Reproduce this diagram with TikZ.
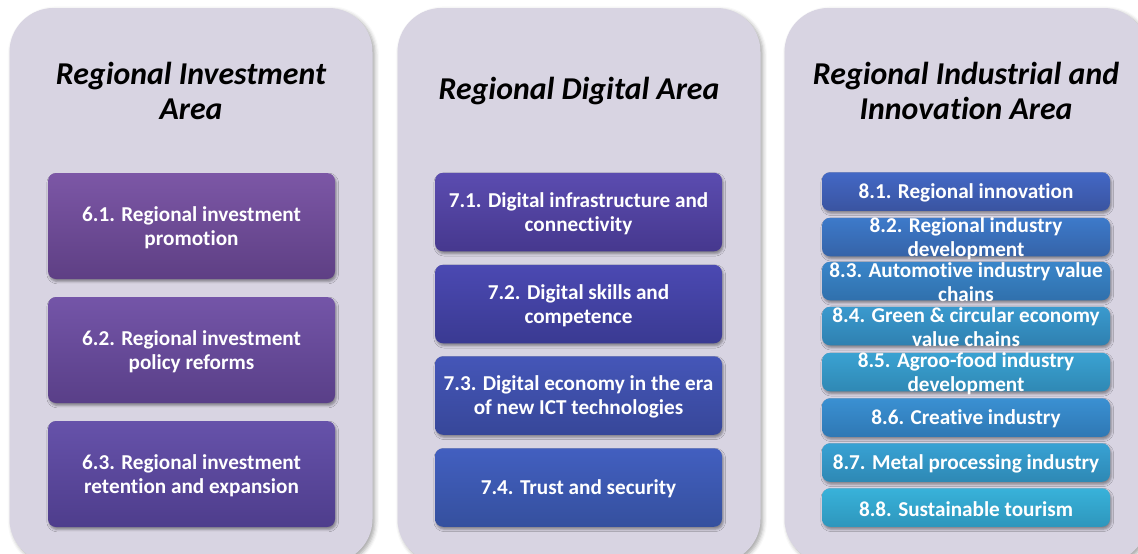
\documentclass[tikz,border=0pt]{standalone}
\usepackage{fontspec}
\setmainfont{Carlito}[Ligatures=NoCommon]
\usepackage{xcolor}
\usetikzlibrary{shadows.blur}

\definecolor{panel-grey}{HTML}{D8D4E2}
\definecolor{p61-top}{HTML}{7C57A6}\definecolor{p61-bot}{HTML}{5E3F84}
\definecolor{p62-top}{HTML}{7455A8}\definecolor{p62-bot}{HTML}{593F88}
\definecolor{p63-top}{HTML}{6652AA}\definecolor{p63-bot}{HTML}{4E3D8C}
\definecolor{p71-top}{HTML}{5B4CB0}\definecolor{p71-bot}{HTML}{46388E}
\definecolor{p72-top}{HTML}{4B49B2}\definecolor{p72-bot}{HTML}{3A3A92}
\definecolor{p73-top}{HTML}{4556B8}\definecolor{p73-bot}{HTML}{374799}
\definecolor{p74-top}{HTML}{425FC0}\definecolor{p74-bot}{HTML}{35509E}
\definecolor{p81-top}{HTML}{4368C6}\definecolor{p81-bot}{HTML}{3A54A0}
\definecolor{p82-top}{HTML}{3D7ACA}\definecolor{p82-bot}{HTML}{3563A8}
\definecolor{p83-top}{HTML}{3A86CA}\definecolor{p83-bot}{HTML}{3070AC}
\definecolor{p84-top}{HTML}{3A9ACE}\definecolor{p84-bot}{HTML}{2F80B0}
\definecolor{p85-top}{HTML}{3AA2D2}\definecolor{p85-bot}{HTML}{2F88B4}
\definecolor{p86-top}{HTML}{3A90D2}\definecolor{p86-bot}{HTML}{2F78B4}
\definecolor{p87-top}{HTML}{38A2D4}\definecolor{p87-bot}{HTML}{2E88B4}
\definecolor{p88-top}{HTML}{38B2DA}\definecolor{p88-bot}{HTML}{2E96BC}

\tikzset{
    area-panel/.style = {fill=panel-grey, rectangle, rounded corners=22pt, minimum width=181.5pt, minimum height=277.5pt,
        blur shadow={shadow xshift=1.2pt, shadow yshift=-1.2pt, shadow blur radius=2pt, shadow opacity=35}},
    area-title/.style = {font=\fontsize{15.9}{17.5}\selectfont\bfseries\itshape, align=center},
    item-box/.style = {rectangle, rounded corners=4pt, minimum width=143.5pt, inner sep=0pt,
        top color=#1-top, bottom color=#1-bot,
        blur shadow={shadow xshift=0.6pt, shadow yshift=-1.2pt, shadow blur radius=1.2pt, shadow opacity=40}},
    item-text/.style = {text=white, font=\fontsize{10.6}{12}\selectfont\bfseries, align=center, inner sep=0pt, yshift=-0.8pt},
}

\begin{document}
\begin{tikzpicture}[x=0.5pt, y=-0.5pt]
\clip (0,0) rectangle (1138,553);

% the three areas
\node [area-panel] (invest-area) at (191,285.5) {};
\node [area-panel] (digital-area) at (579,285.5) {};
\node [area-panel] (industry-area) at (966,285.5) {};

\node [area-title] (invest-title) at (191,91) {Regional Investment\\Area};
\node [area-title] (digital-title) at (579,91.5) {Regional Digital Area};
\node [area-title] (industry-title) at (966,91) {Regional Industrial and\\Innovation Area};

% investment
\node [item-box=p61, minimum height=53pt] (b61) at (191.5,226) {};
\node [item-box=p62, minimum height=53pt] (b62) at (191.5,350) {};
\node [item-box=p63, minimum height=53pt] (b63) at (191.5,474) {};
\node [item-text] (t61) at (b61) {6.1. Regional investment\\promotion};
\node [item-text] (t62) at (b62) {6.2. Regional investment\\policy reforms};
\node [item-text] (t63) at (b63) {6.3. Regional investment\\retention and expansion};

% digital
\node [item-box=p71, minimum height=39.25pt] (b71) at (578.5,212) {};
\node [item-box=p72, minimum height=39.25pt] (b72) at (578.5,304) {};
\node [item-box=p73, minimum height=39.25pt] (b73) at (578.5,395.5) {};
\node [item-box=p74, minimum height=39.25pt] (b74) at (578.5,487.5) {};
\node [item-text] (t71) at (b71) {7.1. Digital infrastructure and\\connectivity};
\node [item-text] (t72) at (b72) {7.2. Digital skills and\\competence};
\node [item-text] (t73) at (b73) {7.3. Digital economy in the era\\of new ICT technologies};
\node [item-text] (t74) at (b74) {7.4. Trust and security};

% industrial and innovation (text is taller than the boxes)
\node [item-box=p81, minimum width=144pt, minimum height=19.25pt] (b81) at (966,191.5) {};
\node [item-box=p82, minimum width=144pt, minimum height=19.25pt] (b82) at (966,237) {};
\node [item-box=p83, minimum width=144pt, minimum height=19.25pt] (b83) at (966,281) {};
\node [item-box=p84, minimum width=144pt, minimum height=19.25pt] (b84) at (966,326) {};
\node [item-box=p85, minimum width=144pt, minimum height=19.25pt] (b85) at (966,372) {};
\node [item-box=p86, minimum width=144pt, minimum height=19.25pt] (b86) at (966,417.5) {};
\node [item-box=p87, minimum width=144pt, minimum height=19.25pt] (b87) at (966,462.5) {};
\node [item-box=p88, minimum width=144pt, minimum height=19.25pt] (b88) at (966,507.5) {};

\node [item-text] (t81) at (b81) {8.1. Regional innovation};
\node [item-text] (t82) at (b82) {8.2. Regional industry\\development};
\node [item-text] (t83) at (b83) {8.3. Automotive industry value\\chains};
\node [item-text] (t84) at (b84) {8.4. Green \& circular economy\\value chains};
\node [item-text] (t85) at (b85) {8.5. Agroo-food industry\\development};
\node [item-text] (t86) at (b86) {8.6. Creative industry};
\node [item-text] (t87) at (b87) {8.7. Metal processing industry};
\node [item-text] (t88) at (b88) {8.8. Sustainable tourism};
\end{tikzpicture}
\end{document}
